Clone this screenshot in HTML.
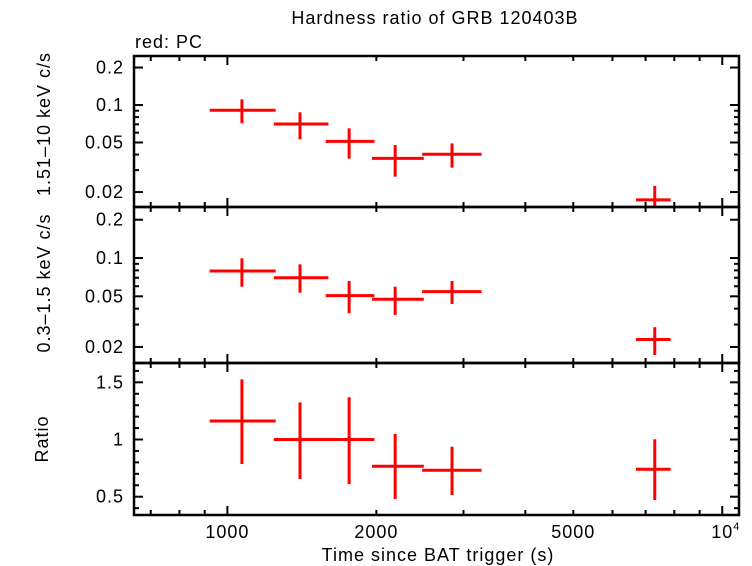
<!DOCTYPE html>
<html><head><meta charset="utf-8"><style>
body{margin:0;background:#fff}
svg{display:block;font-family:"Liberation Sans",sans-serif;letter-spacing:1px}
</style></head><body>
<svg id="c" width="752" height="566">
<text x="435" y="24" font-size="18" text-anchor="middle">Hardness ratio of GRB 120403B</text>
<text x="135" y="48" font-size="18">red: PC</text>
<text x="438" y="561" font-size="18" text-anchor="middle">Time since BAT trigger (s)</text>
<text transform="translate(50,124) rotate(-90)" font-size="18" text-anchor="middle">1.51–10 keV c/s</text>
<text transform="translate(50,283) rotate(-90)" font-size="18" text-anchor="middle">0.3–1.5 keV c/s</text>
<text transform="translate(48,439) rotate(-90)" font-size="18" text-anchor="middle">Ratio</text>
</svg>
<script>
const tCenter=[1070,1402,1762,2183,2844,7305];
const tLo=[921,1241,1580,1960,2475,6692];
const tHi=[1252,1600,1982,2494,3263,7863];
const hard=[0.0907,0.0704,0.0511,0.0373,0.0402,0.0173];
const hardLo=[0.0713,0.053,0.0371,0.0266,0.0314,0.014];
const hardHi=[0.111,0.0874,0.065,0.0477,0.0492,0.0224];
const soft=[0.079,0.070,0.0506,0.0474,0.0544,0.0229];
const softLo=[0.0595,0.0534,0.0368,0.0357,0.0435,0.0173];
const softHi=[0.0995,0.0892,0.066,0.0595,0.066,0.0286];
const ratio=[1.162,1.0,1.0,0.766,0.731,0.74];
const ratioLo=[0.786,0.655,0.61,0.48,0.515,0.471];
const ratioHi=[1.526,1.325,1.37,1.048,0.937,1.002];
const xMajor=[1000,10000];
const xLabels=["1000","2000","5000"];
const logTicks=[0.02,0.05,0.1,0.2];
const ratioTicks=[0.5,1,1.5];

const NS="http://www.w3.org/2000/svg",svg=document.getElementById('c');
const X0=134,X1=739,T0=647.6,T1=10810;
function xs(t){return X0+(Math.log10(t)-Math.log10(T0))/(Math.log10(T1)-Math.log10(T0))*(X1-X0);}
function mk(tag,a,p){const e=document.createElementNS(NS,tag);for(const k in a)e.setAttribute(k,a[k]);(p||svg).appendChild(e);return e;}
const panels=[
 {y0:56,y1:207,lo:0.01517,hi:0.2476,log:true,v:hard,vl:hardLo,vh:hardHi,n:'hard'},
 {y0:207,y1:363,lo:0.01496,hi:0.2518,log:true,v:soft,vl:softLo,vh:softHi,n:'soft'},
 {y0:363,y1:515,lo:0.34,hi:1.669,log:false,v:ratio,vl:ratioLo,vh:ratioHi,n:'ratio'}];
panels.forEach(P=>{
 const ys=P.log?(v=>P.y1-(Math.log10(v)-Math.log10(P.lo))/(Math.log10(P.hi)-Math.log10(P.lo))*(P.y1-P.y0))
              :(v=>P.y1-(v-P.lo)/(P.hi-P.lo)*(P.y1-P.y0));
 const g=mk('g',{});
 
 
 let minors=[];
 if(P.log){for(let d=0.01;d<1;d*=10)for(let k=1;k<10;k++){const v=+(k*d).toFixed(4);if(v>P.lo&&v<P.hi)minors.push(v);}}
 else{for(let v=0.4;v<1.65;v+=0.1)minors.push(+v.toFixed(2));}
 const majors=P.log?logTicks:ratioTicks;
 minors.forEach(v=>{const y=ys(v),L=majors.some(m=>Math.abs(m-v)<1e-6)?9:5;
  mk('line',{x1:X0,x2:X0+L,y1:y,y2:y,stroke:'#000','stroke-width':2},g);
  mk('line',{x1:X1,x2:X1-L,y1:y,y2:y,stroke:'#000','stroke-width':2},g);});
 majors.forEach(v=>{const t=mk('text',{x:X0-10,y:ys(v)+6,'font-size':18,'text-anchor':'end'},g);t.textContent=String(v);
  
  });
 for(let d=100;d<=10000;d*=10)for(let k=1;k<10;k++){const t=k*d;if(t<T0||t>T1)continue;const x=xs(t);const L=xMajor.includes(t)?9:5;
  mk('line',{x1:x,x2:x,y1:P.y1,y2:P.y1-L,stroke:'#000','stroke-width':2},g);
  mk('line',{x1:x,x2:x,y1:P.y0,y2:P.y0+L,stroke:'#000','stroke-width':2},g);}
 mk('rect',{x:X0,y:P.y0,width:X1-X0,height:P.y1-P.y0,fill:'none',stroke:'#000','stroke-width':2.5},g);
 const cl=mk('clipPath',{id:'cp'+P.n});mk('rect',{x:X0,y:P.y0,width:X1-X0,height:P.y1-P.y0},cl);
 const dg=mk('g',{'clip-path':'url(#cp'+P.n+')'},g);
 P.v.forEach((v,i)=>{const pt=mk('g',{},dg);
  
  
  mk('line',{x1:xs(tLo[i]),x2:xs(tHi[i]),y1:ys(v),y2:ys(v),stroke:'#f00','stroke-width':3},pt);
  mk('line',{x1:xs(tCenter[i]),x2:xs(tCenter[i]),y1:ys(P.vl[i]),y2:ys(P.vh[i]),stroke:'#f00','stroke-width':3},pt);});
});
xLabels.forEach(s=>{const t=mk('text',{x:xs(+s),y:538,'font-size':18,'text-anchor':'middle'});t.textContent=s;
 
 });
const tt=mk('text',{x:xs(10000)-11,y:538,'font-size':18});tt.textContent='10';


const sp=mk('tspan',{'font-size':11,dy:-8});sp.textContent='4';tt.appendChild(sp);
</script>
</body></html>
